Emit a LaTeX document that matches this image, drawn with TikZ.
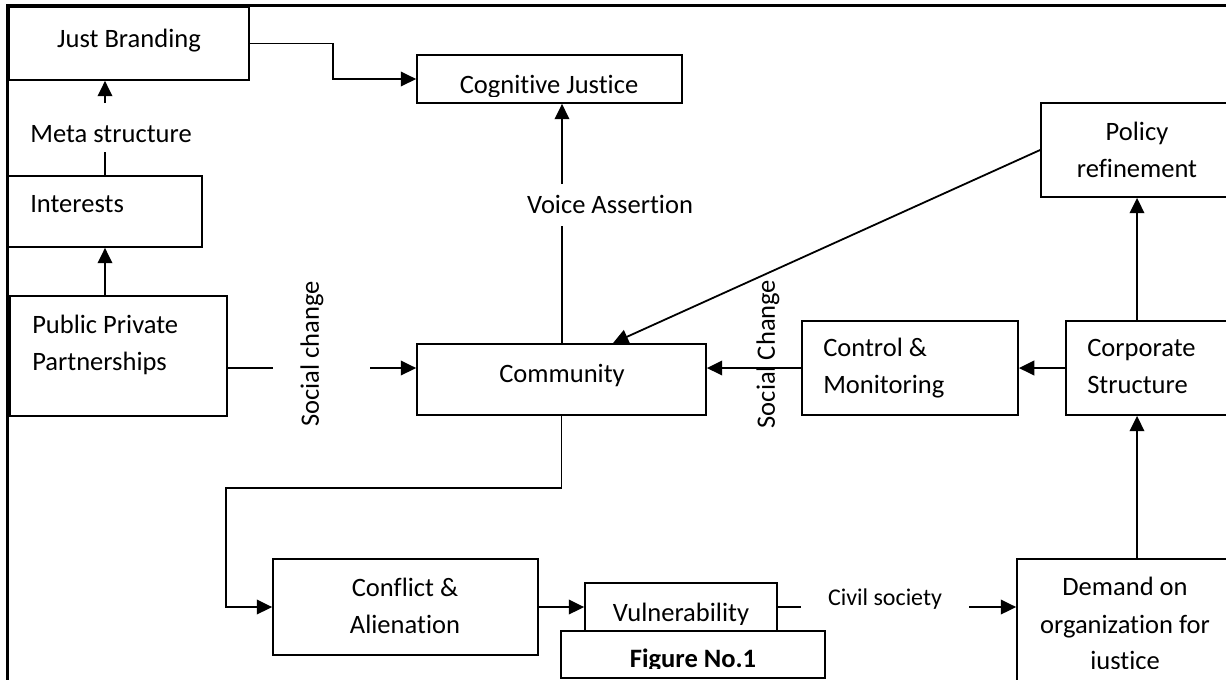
\documentclass[tikz,border=0pt]{standalone}
\usepackage{fontspec}
\setmainfont{Carlito}[Ligatures=NoCommon]
\usetikzlibrary{arrows.meta}
\newcommand{\drawbox}[5]{\node[box, minimum width={(#4-#2)*0.75pt}, minimum height={(#5-#3)*0.75pt}] (#1) at ({(#2+#4)/2},{(#3+#5)/2}) {};}
\begin{document}
\begin{tikzpicture}[x=0.75pt,y=-0.75pt,
  box/.style={draw, line width=1.35pt, inner sep=0pt, anchor=center},
  lbl/.style={inner sep=0pt, anchor=base, font=\fontsize{19.9pt}{27.75pt}\selectfont},
  lbll/.style={lbl, anchor=base west},
  rlbl/.style={inner sep=0pt, anchor=center, rotate=90, font=\fontsize{19.9pt}{27.75pt}\selectfont},
  conn/.style={line width=1.35pt},
  arr/.style={conn, -{Triangle[length=11.5pt,width=11pt]}},
  frame/.style={line width=2.4pt}]
\useasboundingbox (0,0) rectangle (1226,679);
\clip (0,0) rectangle (1226,679);
\fill[white] (0,0) rectangle (1226,679);
% frame
\coordinate (fb) at (7.5,700);
\coordinate (ftl) at (7.5,5.5);
\coordinate (ftr) at (1240,5.5);
\draw[frame] (fb) -- (ftl) -- (ftr);
% boxes
\drawbox{jb}{9}{7}{249}{80}
\drawbox{cj}{417}{55}{682}{103}
\drawbox{intr}{8}{176}{202}{247}
\drawbox{ppp}{10}{296}{227}{416}
\drawbox{com}{417}{344}{706}{415}
\drawbox{pol}{1041}{103}{1233}{197}
\drawbox{ctl}{802}{321}{1018}{415}
\drawbox{corp}{1066}{321}{1233}{415}
\drawbox{con}{273}{559}{538}{655}
\drawbox{vul}{585}{583}{777}{631}
\drawbox{fig}{561}{631}{825}{678}
\drawbox{dem}{1017}{559}{1233}{690}
% labels
\node[lbl] (tjb) at (129,47) {Just Branding};
\node[lbl] (tmeta) at (111,142) {Meta structure};
\node[lbll] (tint) at (30,212) {Interests};
\node[lbll] (tppp1) at (32,333) {Public Private};
\node[lbll] (tppp2) at (32,370) {Partnerships};
\begin{scope}
  \clip (417,55) rectangle (682,96);
  \node[lbl] (tcj) at (549,93) {Cognitive Justice};
\end{scope}
\node[lbl] (tva) at (610,213) {Voice Assertion};
\node[lbl] (tpol1) at (1137,140) {Policy};
\node[lbl] (tpol2) at (1137,177) {refinement};
\node[lbl] (tcom) at (562,382) {Community};
\node[rlbl] (tsc1) at (312,354) {Social change};
\node[rlbl] (tsc2) at (768,354) {Social Change};
\node[lbll] (tctl1) at (823,356) {Control \&};
\node[lbll] (tctl2) at (823,393) {Monitoring};
\node[lbll] (tcorp1) at (1087,356) {Corporate};
\node[lbll] (tcorp2) at (1087,393) {Structure};
\node[lbl] (tcon1) at (405,596) {Conflict \&};
\node[lbl] (tcon2) at (405,633) {Alienation};
\begin{scope}
  \clip (585,583) rectangle (777,624);
  \node[lbl] (tvul) at (681,621) {Vulnerability};
\end{scope}
\begin{scope}
  \clip (561,631) rectangle (825,668.5);
  \node[lbl, font=\fontsize{19.9pt}{27.75pt}\selectfont\bfseries] (tfig) at (693,667) {Figure No.1};
\end{scope}
\node[lbl, font=\fontsize{18pt}{22pt}\selectfont] (tcs) at (885,605) {Civil society};
\node[lbl] (tdem1) at (1125,595) {Demand on};
\node[lbl] (tdem2) at (1125,633) {organization for};
\begin{scope}
  \clip (1017,640) rectangle (1233,668);
  \node[lbl] (tdem3) at (1125,669) {justice};
\end{scope}
% connectors
\draw[arr] (jb.east) -- ++(83,0) |- (cj.west);
\coordinate (m1) at (105,103);
\draw[arr] (m1) -- (m1 |- jb.south);
\coordinate (m2) at (105,152);
\draw[conn] (m2) -- (m2 |- intr.north);
\draw[arr] (ppp.north -| m1) -- (intr.south -| m1);
\coordinate (sc1) at (273,368);
\coordinate (sc2) at (370,368);
\draw[conn] (sc1 -| ppp.east) -- (sc1);
\draw[arr] (sc2) -- (sc2 -| com.west);
\draw[arr] (ctl.west) -- (ctl.west -| com.east);
\draw[arr] (corp.west) -- (ctl.east);
\draw[arr] (pol.west) -- ([xshift=38.6pt]com.north);
\coordinate (va1) at (562,226);
\coordinate (va2) at (562,184);
\draw[conn] (com.north -| va1) -- (va1);
\draw[arr] (va2) -- (cj.south -| va2);
\coordinate (cx) at (1137,0);
\draw[arr] (corp.north -| cx) -- (pol.south -| cx);
\draw[arr] (dem.north -| cx) -- (corp.south -| cx);
\coordinate (cb) at (226,488);
\draw[arr] (com.south) |- (cb) |- (con.west);
\draw[arr] (con.east) -- (con.east -| vul.west);
\coordinate (cs1) at (801,607);
\coordinate (cs2) at (969,607);
\draw[conn] (vul.east) -- (cs1);
\draw[arr] (cs2) -- (cs2 -| dem.west);
\end{tikzpicture}
\end{document}
